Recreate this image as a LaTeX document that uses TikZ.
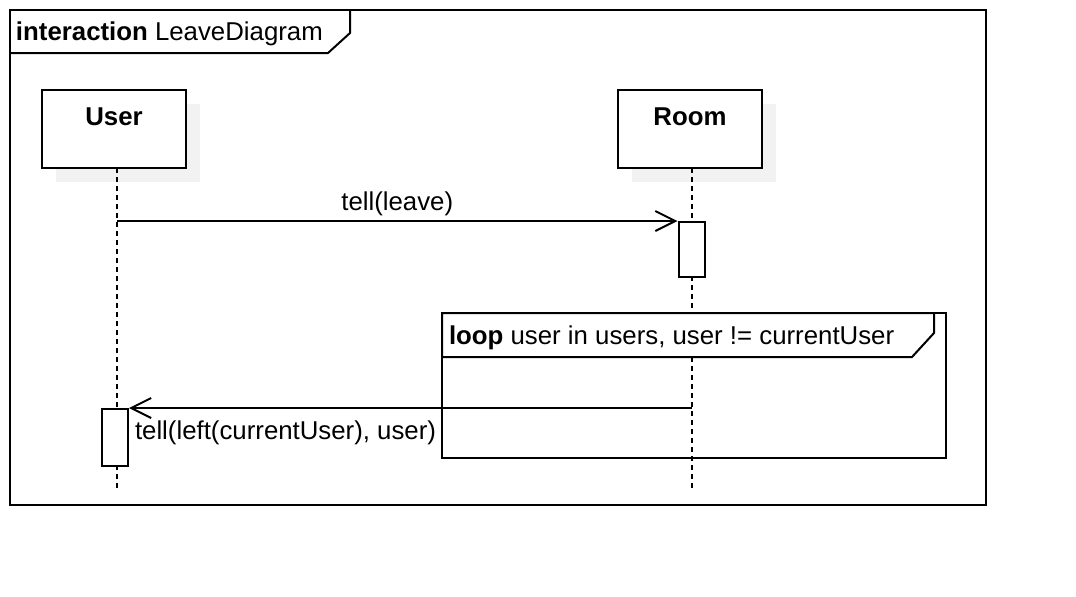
\documentclass[tikz,border=0pt]{standalone}
\usepackage{fontspec}
\setmainfont{Liberation Sans}
\usepackage{xcolor}
\usetikzlibrary{arrows.meta,positioning}

\definecolor{shadowgray}{HTML}{F2F2F2}

\begin{document}
\begin{tikzpicture}[
  x=0.5pt, y=-0.5pt, line width=1pt,
  font=\fontsize{12.9}{15}\selectfont,
  obj/.style={draw, fill=white, minimum width=72pt, minimum height=39pt, inner sep=0pt},
  objshadow/.style={fill=shadowgray, minimum width=72pt, minimum height=39pt, inner sep=0pt},
  objname/.style={font=\fontsize{12.9}{15}\selectfont\bfseries, inner sep=0pt},
  life/.style={line width=0.8pt, dash pattern=on 2.5pt off 2pt},
  act/.style={draw, fill=white, minimum width=13pt, inner sep=0pt},
  msg/.style={-{Straight Barb[length=10pt,width=10pt]}},
  lbl/.style={inner sep=0pt}
]
\useasboundingbox (0,0) rectangle (1076,596);

% interaction frame
\draw (10,10) rectangle (986,505);
\draw (10,53) -- (328,53) -- (350,33) -- (350,10);
\node[lbl, anchor=west] (title) at (15,34) {\textbf{interaction} LeaveDiagram};

% lifeline heads
\node[objshadow] at (128,143) {};
\node[objshadow] at (704,143) {};
\node[obj] (user) at (114,129) {};
\node[obj] (room) at (690,129) {};
\node[objname] (userName) at ([yshift=-14pt]user.north) {User};
\node[objname] (roomName) at ([yshift=-14pt]room.north) {Room};

% lifelines
\coordinate (userTop) at (117,168);
\coordinate (userEnd) at (117,488);
\coordinate (roomTop) at (692,168);
\coordinate (roomEnd) at (692,488);
\draw[life] (userTop) -- (userEnd);
\draw[life] (roomTop) -- (roomEnd);

% activations
\node[act, minimum height=27.5pt] (roomAct) at (691.5,249.5) {};
\node[act, minimum height=28.5pt] (userAct) at (115,437.5) {};

% messages
\draw[msg] (userTop |- roomAct.north west) -- node[lbl, above=2pt] (leaveLbl) {tell(leave)} (roomAct.north west);
\draw[msg] (roomTop |- userAct.north east) -- (userAct.north east);
\node[lbl, anchor=west] (leftLbl) at (134,433) {tell(left(currentUser), user)};

% loop fragment
\draw (442,313) rectangle (946,458);
\draw[fill=white] (442,313) -- (442,357) -- (912,357) -- (934,333) -- (934,313) -- cycle;
\node[lbl, anchor=west] (loopLbl) at (448,338) {\textbf{loop} user in users, user != currentUser};
\end{tikzpicture}
\end{document}
